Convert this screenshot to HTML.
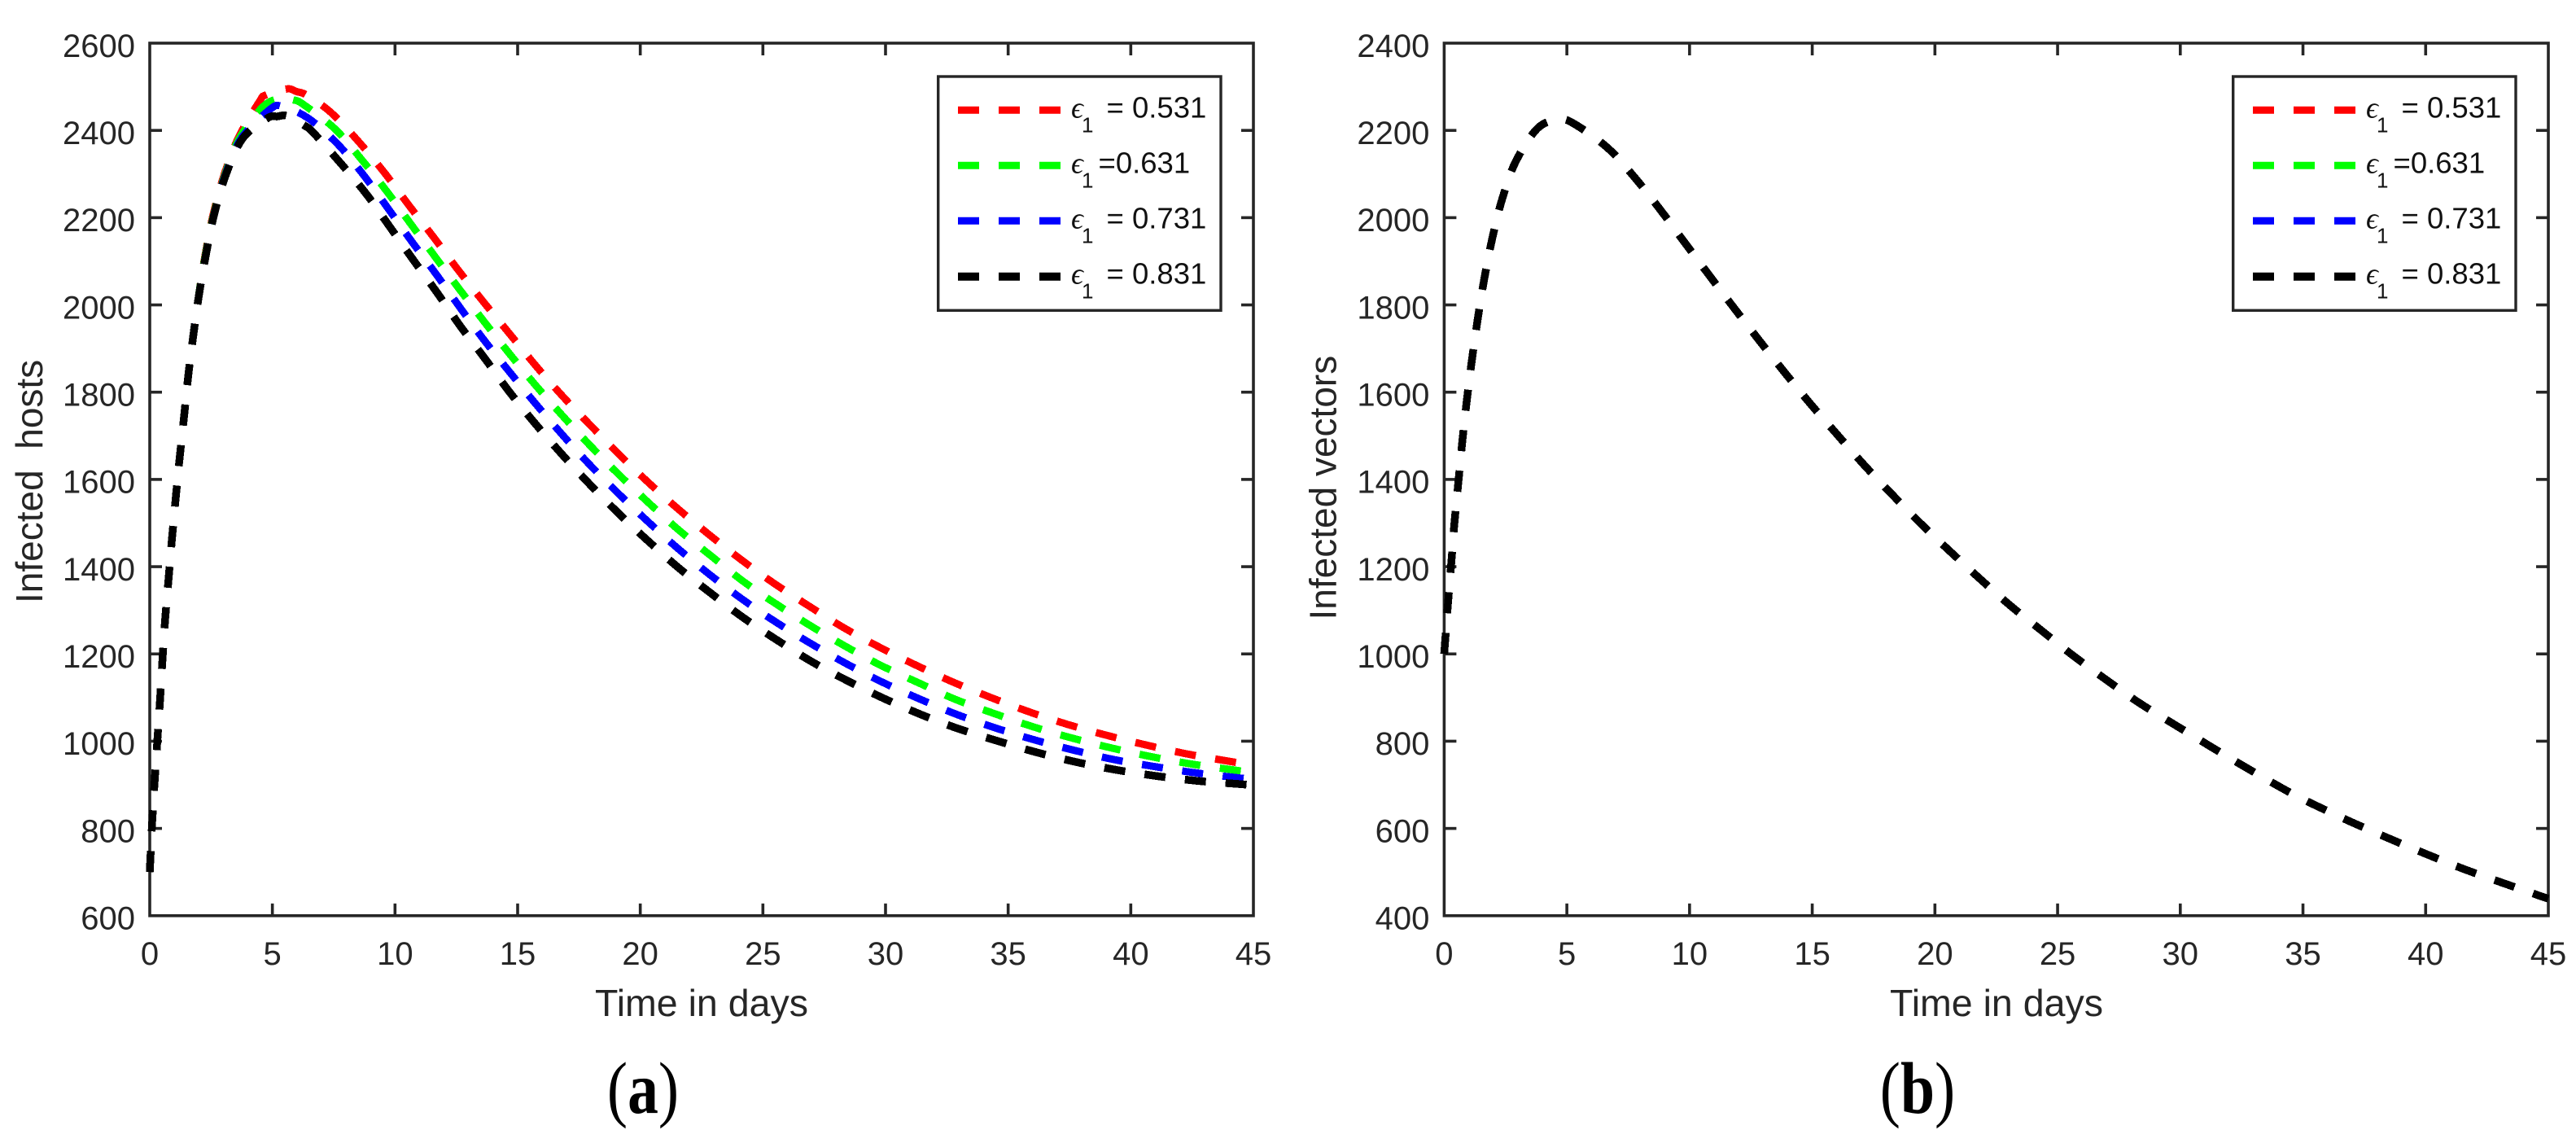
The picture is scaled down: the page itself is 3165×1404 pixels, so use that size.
<!DOCTYPE html>
<html lang="en">
<head>
<meta charset="utf-8">
<title>Infected hosts and vectors over time</title>
<style>
html,body{margin:0;padding:0;background:#fff;}
body{width:3165px;height:1404px;overflow:hidden;}
svg{display:block;}
text{font-family:"Liberation Sans",Arial,sans-serif;fill:#262626;}
.leg{font-size:36.5px;fill:#111;}
.eps{font-family:"Liberation Serif","DejaVu Serif",serif;font-style:italic;font-size:37px;fill:#111;}
.sub{font-size:26px;fill:#111;}
.title{font-size:46px;}
.cap{font-family:"Liberation Serif",serif;font-size:90px;fill:#000;}
</style>
</head>
<body>
<svg id="figure" xmlns="http://www.w3.org/2000/svg" width="3165" height="1404" viewBox="0 0 3165 1404">
  <rect width="3165" height="1404" fill="#fff"/>

  <g id="panel-a">
    <g id="axes-a"></g>
    <g id="curves-a"></g>
    <text class="title" transform="translate(52,741) rotate(-90)" xml:space="preserve">Infected  hosts</text>
    <text class="title" x="862" y="1248" text-anchor="middle" textLength="262" lengthAdjust="spacingAndGlyphs">Time in days</text>
    <g>
      <rect x="1152.7" y="94" width="347.3" height="287.3" fill="#fff" stroke="#262626" stroke-width="3.4"/>
      <g transform="translate(1177,135.3)">
        <line x1="0" x2="126" y1="0" y2="0" stroke="#ff0000" stroke-width="9" stroke-dasharray="26 24"/>
        <text class="eps" x="139" y="9">ϵ</text>
        <text class="sub" x="152" y="27">1</text>
        <text class="leg" x="182.5" y="9">= 0.531</text>
      </g>
      <g transform="translate(1177,203.3)">
        <line x1="0" x2="126" y1="0" y2="0" stroke="#00ff00" stroke-width="9" stroke-dasharray="26 24"/>
        <text class="eps" x="139" y="9">ϵ</text>
        <text class="sub" x="152" y="27">1</text>
        <text class="leg" x="172.5" y="9">=0.631</text>
      </g>
      <g transform="translate(1177,271.3)">
        <line x1="0" x2="126" y1="0" y2="0" stroke="#0000ff" stroke-width="9" stroke-dasharray="26 24"/>
        <text class="eps" x="139" y="9">ϵ</text>
        <text class="sub" x="152" y="27">1</text>
        <text class="leg" x="182.5" y="9">= 0.731</text>
      </g>
      <g transform="translate(1177,339.7)">
        <line x1="0" x2="126" y1="0" y2="0" stroke="#000000" stroke-width="10" stroke-dasharray="26 24"/>
        <text class="eps" x="139" y="9">ϵ</text>
        <text class="sub" x="152" y="27">1</text>
        <text class="leg" x="182.5" y="9">= 0.831</text>
      </g>
    </g>
    <text class="cap" text-anchor="middle" transform="translate(790,1367) scale(.84,1)">(<tspan font-weight="bold">a</tspan>)</text>
  </g>

  <g id="panel-b">
    <g id="axes-b"></g>
    <g id="curves-b"></g>
    <text class="title" transform="translate(1641.7,761.5) rotate(-90)">Infected vectors</text>
    <text class="title" x="2453" y="1248" text-anchor="middle" textLength="262" lengthAdjust="spacingAndGlyphs">Time in days</text>
    <g>
      <rect x="2743.7" y="94" width="347.3" height="287.3" fill="#fff" stroke="#262626" stroke-width="3.4"/>
      <g transform="translate(2768,135.3)">
        <line x1="0" x2="126" y1="0" y2="0" stroke="#ff0000" stroke-width="9" stroke-dasharray="26 24"/>
        <text class="eps" x="139" y="9">ϵ</text>
        <text class="sub" x="152" y="27">1</text>
        <text class="leg" x="182.5" y="9">= 0.531</text>
      </g>
      <g transform="translate(2768,203.3)">
        <line x1="0" x2="126" y1="0" y2="0" stroke="#00ff00" stroke-width="9" stroke-dasharray="26 24"/>
        <text class="eps" x="139" y="9">ϵ</text>
        <text class="sub" x="152" y="27">1</text>
        <text class="leg" x="172.5" y="9">=0.631</text>
      </g>
      <g transform="translate(2768,271.3)">
        <line x1="0" x2="126" y1="0" y2="0" stroke="#0000ff" stroke-width="9" stroke-dasharray="26 24"/>
        <text class="eps" x="139" y="9">ϵ</text>
        <text class="sub" x="152" y="27">1</text>
        <text class="leg" x="182.5" y="9">= 0.731</text>
      </g>
      <g transform="translate(2768,339.7)">
        <line x1="0" x2="126" y1="0" y2="0" stroke="#000000" stroke-width="10" stroke-dasharray="26 24"/>
        <text class="eps" x="139" y="9">ϵ</text>
        <text class="sub" x="152" y="27">1</text>
        <text class="leg" x="182.5" y="9">= 0.831</text>
      </g>
    </g>
    <text class="cap" text-anchor="middle" transform="translate(2356,1367) scale(.84,1)">(<tspan font-weight="bold">b</tspan>)</text>
  </g>
</svg>

<script>
const xTickLabels = [0, 5, 10, 15, 20, 25, 30, 35, 40, 45];
const hostsTickLabels = [600, 800, 1000, 1200, 1400, 1600, 1800, 2000, 2200, 2400, 2600];
const vectorsTickLabels = [400, 600, 800, 1000, 1200, 1400, 1600, 1800, 2000, 2200, 2400];

const hostsDaysRed = [0,.1,.2,.31,.42,.52,.63,.77,.91,1.05,1.185,1.4,1.57,1.78,2.0,2.26,2.58,3.03,3.63,4.48,4.73,5.6,5.98,6.39,7.39,8.52,9.57,10.57,11.59,12.59,13.62,14.67,15.78,16.83,17.97,19.14,20.33,21.57,22.86,24.16,25.5,26.9,28.3,29.77,31.25,32.77,34.3,35.87,37.45,39.05,40.65,42.27,43.9,45];
const hostsRed = [700,816,909,1002,1095,1188,1281,1374,1467,1552,1631,1745,1838,1932,2024,2115,2206,2298,2385,2467,2481,2495,2489,2481,2441,2374,2303,2228,2154,2079,2006,1934,1858,1791,1724,1657,1593,1531,1471,1414,1360,1309,1260,1215,1174,1135,1100,1067,1038,1013,991,971,955,945];

const hostsDaysGreen = [0,.1,.2,.31,.42,.52,.63,.77,.91,1.05,1.185,1.4,1.57,1.78,2.0,2.27,2.6,3.06,3.66,4.65,5.4,5.84,6.25,7.56,8.64,9.67,10.65,11.64,12.64,13.63,14.67,15.73,16.83,17.95,19.13,20.33,21.57,22.86,24.16,25.5,26.93,28.35,29.8,31.3,32.84,34.4,35.96,37.55,39.17,40.79,42.43,44.07,45];
const hostsGreen = [700,816,909,1002,1095,1188,1281,1374,1467,1552,1631,1745,1838,1932,2024,2115,2206,2298,2383,2456,2474,2470,2460,2403,2333,2260,2185,2110,2035,1962,1888,1816,1746,1678,1611,1547,1484,1426,1368,1316,1265,1218,1174,1135,1096,1064,1034,1008,985,965,948,935,928];

const hostsDaysBlue = [0,.1,.2,.31,.42,.52,.63,.77,.91,1.05,1.185,1.4,1.57,1.78,2.01,2.28,2.61,3.08,3.72,4.9,5.4,6.46,7.69,8.74,9.73,10.7,11.67,12.65,13.65,14.69,15.74,16.83,17.95,19.12,20.32,21.55,22.85,24.17,25.53,26.95,28.39,29.88,31.38,32.92,34.5,36.07,37.7,39.3,40.95,42.57,44.23,45];
const hostsBlue = [700,816,909,1002,1095,1188,1281,1374,1467,1552,1631,1745,1838,1932,2024,2115,2206,2298,2381,2448,2455,2428,2367,2296,2220,2144,2071,1994,1918,1845,1773,1702,1633,1567,1503,1441,1381,1325,1273,1224,1178,1135,1097,1061,1030,1003,979,958,942,928,917,912];

const hostsDaysBlack = [0,.1,.2,.31,.42,.52,.63,.77,.91,1.05,1.185,1.4,1.57,1.78,2.01,2.29,2.62,3.1,3.78,4.8,5.2,5.62,6.34,6.65,7.75,8.82,9.8,10.76,11.73,12.68,13.68,14.66,15.7,16.8,17.92,19.1,20.3,21.55,22.86,24.18,25.57,26.97,28.43,29.93,31.45,33,34.6,36.19,37.79,39.43,41.07,42.72,44.38,45];
const hostsBlack = [700,816,909,1002,1095,1188,1281,1374,1467,1552,1631,1745,1838,1932,2024,2115,2206,2298,2381,2428,2432,2433,2410,2396,2327,2255,2178,2102,2027,1950,1876,1801,1729,1658,1590,1523,1460,1398,1340,1284,1232,1183,1139,1098,1061,1028,1000,974,952,934,920,909,902,899];

const vectorDays = [0,.155,.29,.42,.58,.74,.92,1.13,1.36,1.625,1.95,2.35,2.91,3.81,4.7,5.33,6.66,7.78,8.81,9.8,10.8,11.8,12.82,13.85,14.9,16,17.1,18.23,19.4,20.6,21.82,23.07,24.36,25.66,27,28.35,30,32,34,35,36,37.04,38.55,40.08,41.6,43.2,44.68,45];
const vectorValues = [1000,1116,1209,1302,1395,1488,1580,1674,1765,1857,1950,2040,2128,2205,2225,2214,2160,2091,2018,1943,1868,1794,1720,1647,1575,1504,1434,1367,1300,1236,1173,1111,1053,995,940,887,830,762,697,667,640,613,576,540,506,474,445,439];

const seriesNames = ['eps-0531', 'eps-0631', 'eps-0731', 'eps-0831'];
const seriesColors = ['#ff0000', '#00ff00', '#0000ff', '#000000'];

const SVG_NS = 'http://www.w3.org/2000/svg';

function smoothPath(px) {
  let d = 'M' + px[0][0].toFixed(2) + ' ' + px[0][1].toFixed(2);
  for (let i = 0; i < px.length - 1; i++) {
    const p0 = px[Math.max(i - 1, 0)], p1 = px[i], p2 = px[i + 1], p3 = px[Math.min(i + 2, px.length - 1)];
    const c1x = p1[0] + (p2[0] - p0[0]) / 6, c1y = p1[1] + (p2[1] - p0[1]) / 6;
    const c2x = p2[0] - (p3[0] - p1[0]) / 6, c2y = p2[1] - (p3[1] - p1[1]) / 6;
    d += 'C' + c1x.toFixed(2) + ' ' + c1y.toFixed(2) + ' ' + c2x.toFixed(2) + ' ' + c2y.toFixed(2) + ' ' + p2[0].toFixed(2) + ' ' + p2[1].toFixed(2);
  }
  return d;
}

function drawPanel(axesId, curvesId, left, right, top, bottom, yTicks, curves) {
  const axes = document.getElementById(axesId);
  const curveGroup = document.getElementById(curvesId);
  const xMin = xTickLabels[0], xMax = xTickLabels[xTickLabels.length - 1];
  const yMin = yTicks[0], yMax = yTicks[yTicks.length - 1];
  const xScale = v => left + (v - xMin) / (xMax - xMin) * (right - left);
  const yScale = v => bottom - (v - yMin) / (yMax - yMin) * (bottom - top);

  const frame = document.createElementNS(SVG_NS, 'rect');
  
  
  frame.setAttribute('x', left);
  frame.setAttribute('y', top);
  frame.setAttribute('width', right - left);
  frame.setAttribute('height', bottom - top);
  frame.setAttribute('fill', 'none');
  frame.setAttribute('stroke', '#262626');
  frame.setAttribute('stroke-width', '3.6');
  axes.appendChild(frame);

  xTickLabels.forEach(v => {
    const x = xScale(v);
    [[bottom, bottom - 15], [top, top + 15]].forEach(ends => {
      if (v === xMin || v === xMax) return;
      const tick = document.createElementNS(SVG_NS, 'line');
      
      
      tick.setAttribute('x1', x);
      tick.setAttribute('x2', x);
      tick.setAttribute('y1', ends[0]);
      tick.setAttribute('y2', ends[1]);
      tick.setAttribute('stroke', '#262626');
      tick.setAttribute('stroke-width', '3.6');
      axes.appendChild(tick);
    });
    const label = document.createElementNS(SVG_NS, 'text');
    
    
    label.setAttribute('x', x);
    label.setAttribute('y', 1185);
    label.setAttribute('text-anchor', 'middle');
    label.setAttribute('font-size', '40');
    label.textContent = v;
    axes.appendChild(label);
  });

  yTicks.forEach(v => {
    const y = yScale(v);
    [[left, left + 15], [right, right - 15]].forEach(ends => {
      if (v === yMin || v === yMax) return;
      const tick = document.createElementNS(SVG_NS, 'line');
      
      
      tick.setAttribute('x1', ends[0]);
      tick.setAttribute('x2', ends[1]);
      tick.setAttribute('y1', y);
      tick.setAttribute('y2', y);
      tick.setAttribute('stroke', '#262626');
      tick.setAttribute('stroke-width', '3.6');
      axes.appendChild(tick);
    });
    const label = document.createElementNS(SVG_NS, 'text');
    
    
    label.setAttribute('x', left - 18);
    label.setAttribute('y', y + 16.8);
    label.setAttribute('text-anchor', 'end');
    label.setAttribute('font-size', '40');
    label.textContent = v;
    axes.appendChild(label);
  });

  curves.forEach((c, i) => {
    const pts = c[0].map((d, k) => [xScale(d), yScale(c[1][k])]);
    const path = document.createElementNS(SVG_NS, 'path');
    
    
    path.setAttribute('d', smoothPath(pts));
    path.setAttribute('fill', 'none');
    path.setAttribute('stroke', seriesColors[i]);
    path.setAttribute('stroke-width', i === 3 ? '9.5' : '9');
    path.setAttribute('stroke-dasharray', '26 24');
    path.setAttribute('shape-rendering', 'crispEdges');
    curveGroup.appendChild(path);
  });
}

drawPanel('axes-a', 'curves-a', 184, 1540, 53, 1124.8, hostsTickLabels, [
  [hostsDaysRed, hostsRed],
  [hostsDaysGreen, hostsGreen],
  [hostsDaysBlue, hostsBlue],
  [hostsDaysBlack, hostsBlack]
]);
drawPanel('axes-b', 'curves-b', 1774.4, 3131, 53, 1124.8, vectorsTickLabels, [
  [vectorDays, vectorValues],
  [vectorDays, vectorValues],
  [vectorDays, vectorValues],
  [vectorDays, vectorValues]
]);
</script>
</body>
</html>
